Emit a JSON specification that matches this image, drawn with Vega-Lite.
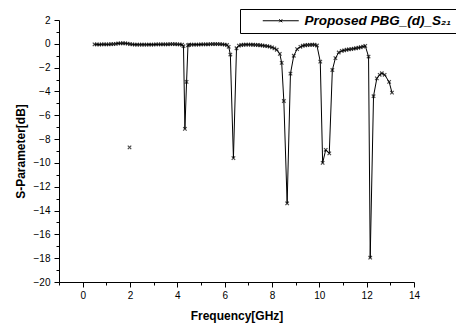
{
  "$schema": "https://vega.github.io/schema/vega-lite/v6.json",
  "autosize": {"type": "none"},
  "padding": {"left": 59, "top": 20, "right": 42, "bottom": 43},
  "width": 355,
  "height": 262,
  "background": "white",
  "config": {
    "view": {"stroke": null},
    "font": "Liberation Sans",
    "axis": {
      "grid": false,
      "domainColor": "black",
      "tickColor": "black",
      "labelColor": "black",
      "titleColor": "black",
      "labelFont": "Liberation Sans",
      "titleFont": "Liberation Sans",
      "labelFontSize": 10,
      "titleFontSize": 12,
      "titleFontWeight": "bold",
      "domainWidth": 1,
      "tickWidth": 1
    },
    "legend": {
      "strokeColor": "black",
      "padding": 5,
      "labelFont": "Liberation Sans",
      "labelFontSize": 13.5,
      "labelFontWeight": "bold",
      "labelFontStyle": "italic",
      "labelColor": "black",
      "labelLimit": 300
    }
  },
  "data": {
    "values": [
      {"f": 0.5, "s": -0.05, "g": "a"}, {"f": 0.6, "s": -0.05, "g": "a"}, {"f": 0.7, "s": -0.06, "g": "a"},
      {"f": 0.8, "s": -0.05, "g": "a"}, {"f": 0.9, "s": -0.04, "g": "a"}, {"f": 1.0, "s": -0.05, "g": "a"},
      {"f": 1.1, "s": -0.05, "g": "a"}, {"f": 1.2, "s": -0.03, "g": "a"}, {"f": 1.3, "s": -0.02, "g": "a"},
      {"f": 1.4, "s": 0.0, "g": "a"}, {"f": 1.5, "s": 0.03, "g": "a"}, {"f": 1.6, "s": 0.04, "g": "a"},
      {"f": 1.7, "s": 0.05, "g": "a"}, {"f": 1.8, "s": 0.04, "g": "a"}, {"f": 1.9, "s": 0.02, "g": "a"},
      {"f": 2.0, "s": -0.02, "g": "a"}, {"f": 2.1, "s": -0.05, "g": "a"}, {"f": 2.2, "s": -0.06, "g": "a"},
      {"f": 2.3, "s": -0.07, "g": "a"}, {"f": 2.4, "s": -0.07, "g": "a"}, {"f": 2.5, "s": -0.07, "g": "a"},
      {"f": 2.6, "s": -0.07, "g": "a"}, {"f": 2.7, "s": -0.07, "g": "a"}, {"f": 2.8, "s": -0.06, "g": "a"},
      {"f": 2.9, "s": -0.06, "g": "a"}, {"f": 3.0, "s": -0.06, "g": "a"}, {"f": 3.1, "s": -0.05, "g": "a"},
      {"f": 3.2, "s": -0.05, "g": "a"}, {"f": 3.3, "s": -0.05, "g": "a"}, {"f": 3.4, "s": -0.04, "g": "a"},
      {"f": 3.5, "s": -0.04, "g": "a"}, {"f": 3.6, "s": -0.04, "g": "a"}, {"f": 3.7, "s": -0.03, "g": "a"},
      {"f": 3.8, "s": -0.03, "g": "a"}, {"f": 3.9, "s": -0.03, "g": "a"}, {"f": 4.0, "s": -0.04, "g": "a"},
      {"f": 4.1, "s": -0.05, "g": "a"}, {"f": 4.2, "s": -0.08, "g": "a"}, {"f": 4.26, "s": -0.2, "g": "a"},
      {"f": 4.32, "s": -7.14, "g": "a"}, {"f": 4.39, "s": -3.2, "g": "a"}, {"f": 4.45, "s": -0.12, "g": "a"},
      {"f": 4.5, "s": -0.08, "g": "a"}, {"f": 4.6, "s": -0.07, "g": "a"}, {"f": 4.7, "s": -0.07, "g": "a"},
      {"f": 4.8, "s": -0.06, "g": "a"}, {"f": 4.9, "s": -0.06, "g": "a"}, {"f": 5.0, "s": -0.05, "g": "a"},
      {"f": 5.1, "s": -0.05, "g": "a"}, {"f": 5.2, "s": -0.04, "g": "a"}, {"f": 5.3, "s": -0.04, "g": "a"},
      {"f": 5.4, "s": -0.03, "g": "a"}, {"f": 5.5, "s": -0.02, "g": "a"}, {"f": 5.6, "s": -0.02, "g": "a"},
      {"f": 5.7, "s": -0.02, "g": "a"}, {"f": 5.8, "s": -0.03, "g": "a"}, {"f": 5.9, "s": -0.04, "g": "a"},
      {"f": 6.0, "s": -0.06, "g": "a"}, {"f": 6.1, "s": -0.1, "g": "a"}, {"f": 6.17, "s": -0.25, "g": "a"},
      {"f": 6.24, "s": -0.9, "g": "a"}, {"f": 6.37, "s": -9.6, "g": "a"}, {"f": 6.5, "s": -0.37, "g": "a"},
      {"f": 6.6, "s": -0.15, "g": "a"}, {"f": 6.7, "s": -0.1, "g": "a"}, {"f": 6.8, "s": -0.08, "g": "a"},
      {"f": 6.9, "s": -0.07, "g": "a"}, {"f": 7.0, "s": -0.07, "g": "a"}, {"f": 7.1, "s": -0.07, "g": "a"},
      {"f": 7.2, "s": -0.08, "g": "a"}, {"f": 7.3, "s": -0.09, "g": "a"}, {"f": 7.4, "s": -0.1, "g": "a"},
      {"f": 7.5, "s": -0.12, "g": "a"}, {"f": 7.6, "s": -0.14, "g": "a"}, {"f": 7.7, "s": -0.17, "g": "a"},
      {"f": 7.8, "s": -0.2, "g": "a"}, {"f": 7.9, "s": -0.24, "g": "a"}, {"f": 8.0, "s": -0.3, "g": "a"},
      {"f": 8.1, "s": -0.38, "g": "a"}, {"f": 8.2, "s": -0.5, "g": "a"}, {"f": 8.33, "s": -0.84, "g": "a"},
      {"f": 8.41, "s": -1.6, "g": "a"}, {"f": 8.5, "s": -4.8, "g": "a"}, {"f": 8.64, "s": -13.4, "g": "a"},
      {"f": 8.78, "s": -2.5, "g": "a"}, {"f": 8.92, "s": -1.0, "g": "a"}, {"f": 9.06, "s": -0.45, "g": "a"},
      {"f": 9.2, "s": -0.25, "g": "a"}, {"f": 9.3, "s": -0.16, "g": "a"}, {"f": 9.4, "s": -0.12, "g": "a"},
      {"f": 9.5, "s": -0.1, "g": "a"}, {"f": 9.6, "s": -0.09, "g": "a"}, {"f": 9.7, "s": -0.08, "g": "a"},
      {"f": 9.8, "s": -0.08, "g": "a"}, {"f": 9.9, "s": -0.14, "g": "a"}, {"f": 10.04, "s": -1.5, "g": "a"},
      {"f": 10.14, "s": -10.0, "g": "a"}, {"f": 10.27, "s": -8.9, "g": "a"}, {"f": 10.42, "s": -9.2, "g": "a"},
      {"f": 10.55, "s": -2.2, "g": "a"}, {"f": 10.68, "s": -1.2, "g": "a"}, {"f": 10.82, "s": -0.73, "g": "a"},
      {"f": 10.95, "s": -0.6, "g": "a"}, {"f": 11.05, "s": -0.55, "g": "a"}, {"f": 11.15, "s": -0.5, "g": "a"},
      {"f": 11.25, "s": -0.47, "g": "a"}, {"f": 11.35, "s": -0.44, "g": "a"}, {"f": 11.45, "s": -0.41, "g": "a"},
      {"f": 11.55, "s": -0.37, "g": "a"}, {"f": 11.65, "s": -0.33, "g": "a"}, {"f": 11.75, "s": -0.29, "g": "a"},
      {"f": 11.85, "s": -0.23, "g": "a"}, {"f": 11.94, "s": -0.17, "g": "a"}, {"f": 12.08, "s": -1.07, "g": "a"},
      {"f": 12.15, "s": -17.96, "g": "a"}, {"f": 12.29, "s": -4.4, "g": "a"}, {"f": 12.43, "s": -2.9, "g": "a"},
      {"f": 12.55, "s": -2.6, "g": "a"}, {"f": 12.64, "s": -2.47, "g": "a"}, {"f": 12.76, "s": -2.6, "g": "a"},
      {"f": 12.95, "s": -3.2, "g": "a"}, {"f": 13.07, "s": -4.1, "g": "a"},
      {"f": 1.98, "s": -8.7, "g": "b"}
    ]
  },
  "encoding": {
    "x": {
      "field": "f", "type": "quantitative",
      "scale": {"domain": [-1, 14], "nice": false, "zero": false},
      "axis": {
        "title": "Frequency[GHz]",
        "values": [-1, 0, 1, 2, 3, 4, 5, 6, 7, 8, 9, 10, 11, 12, 13, 14],
        "labelExpr": "datum.value % 2 == 0 ? datum.label : ''",
        "labelOverlap": false,
        "tickSize": {"condition": {"test": "datum.value % 2 == 0", "value": 5}, "value": 3},
        "labelPadding": 3,
        "titlePadding": 10,
        "labelFlush": false
      }
    },
    "y": {
      "field": "s", "type": "quantitative",
      "scale": {"domain": [-20, 2], "nice": false, "zero": false},
      "axis": {
        "title": "S-Parameter[dB]",
        "values": [-20, -19, -18, -17, -16, -15, -14, -13, -12, -11, -10, -9, -8, -7, -6, -5, -4, -3, -2, -1, 0, 1, 2],
        "labelExpr": "datum.value % 2 == 0 ? datum.label : ''",
        "labelOverlap": false,
        "tickSize": {"condition": {"test": "datum.value % 2 == 0", "value": 5}, "value": 3},
        "labelPadding": 4,
        "titlePadding": 6,
        "labelFlush": false
      }
    }
  },
  "layer": [
    {
      "mark": {"type": "line", "strokeWidth": 1, "clip": false},
      "encoding": {
        "detail": {"field": "g"},
        "color": {
          "datum": "Proposed PBG_(d)_S₂₁",
          "scale": {"range": ["black"]},
          "legend": {
            "title": null,
            "orient": "none",
            "legendX": 181,
            "legendY": -11,
            "symbolType": "M-3,0L3,0M-0.25,-0.25L0.25,0.25M-0.25,0.25L0.25,-0.25",
            "symbolSize": 144,
            "symbolStrokeWidth": 1,
            "symbolFillColor": "transparent",
            "symbolOffset": 29,
            "labelOffset": 17
          }
        }
      }
    },
    {
      "mark": {"type": "point", "shape": "M-1,-1L1,1M-1,1L1,-1", "size": 12, "strokeWidth": 1.2, "filled": false, "color": "black"}
    }
  ]
}
